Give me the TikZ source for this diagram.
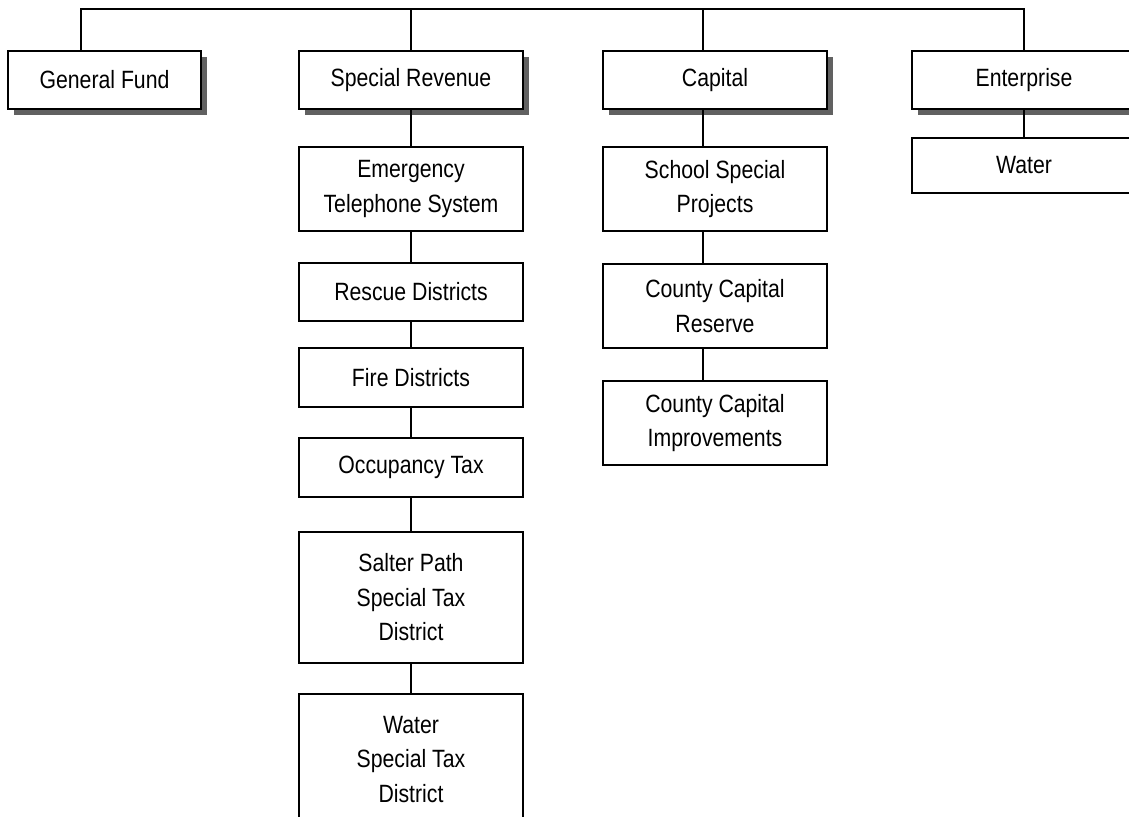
\documentclass[tikz,border=0pt]{standalone}
\usepackage{fontspec}
\setmainfont[FakeStretch=0.85]{Liberation Sans}
\usetikzlibrary{shadows}
\begin{document}
\begin{tikzpicture}[x=1pt,y=-1pt,
  box/.style={draw=black, line width=2pt, fill=white, inner sep=0pt, align=center,
    font=\fontsize{25}{34.5}\selectfont},
  fundbox/.style={box, minimum width=224pt},
  topbox/.style={box, minimum height=57pt,
    drop shadow={shadow xshift=6pt, shadow yshift=-6pt, fill=black!62, opacity=1}},
  link/.style={line width=1.7pt}]
\useasboundingbox (0,0) rectangle (1129,816);
\begin{scope}
\clip (0,0) rectangle (1129,816);

% fund types
\node[topbox, minimum width=193pt] (gf) at (104.5,80) {General Fund};
\node[topbox, fundbox] (sr)  at (411,80)  {Special Revenue};
\node[topbox, fundbox] (cap) at (715,80)  {Capital};
\node[topbox, fundbox] (ent) at (1024,80) {Enterprise};

% special revenue funds
\node[fundbox, minimum height=84pt]  (emg)  at (411,189)   {Emergency\\Telephone System};
\node[fundbox, minimum height=58pt]  (resc) at (411,292)   {Rescue Districts};
\node[fundbox, minimum height=59pt]  (fire) at (411,377.5) {Fire Districts};
\node[fundbox, minimum height=59pt]  (occ)  at (411,467.5) {Occupancy Tax};
\node[fundbox, minimum height=131pt] (salt) at (411,597.5) {Salter Path\\Special Tax\\District};
\node[fundbox, minimum height=131pt] (wtd)  at (411,759.5) {Water\\Special Tax\\District};

% capital funds
\node[fundbox, minimum height=84pt] (sch) at (715,189) {School Special\\Projects};
\node[fundbox, minimum height=84pt] (ccr) at (715,306) {County Capital\\Reserve};
\node[fundbox, minimum height=84pt] (cci) at (715,423) {County Capital\\Improvements};

% enterprise funds
\node[fundbox, minimum height=55pt] (wat) at (1024,165.5) {Water};

% bus points
\coordinate (b1) at (81,9);
\coordinate (b2) at (411,9);
\coordinate (b3) at (703,9);
\coordinate (b4) at (1024,9);

\draw[link] (b1 |- gf.north) -- (b1) -- (b4) -- (b4 |- ent.north);
\draw[link] (b2) -- (b2 |- sr.north);
\draw[link] (b3) -- (b3 |- cap.north);

\draw[link] (b2 |- sr.south)   -- (b2 |- emg.north);
\draw[link] (b2 |- emg.south)  -- (b2 |- resc.north);
\draw[link] (b2 |- resc.south) -- (b2 |- fire.north);
\draw[link] (b2 |- fire.south) -- (b2 |- occ.north);
\draw[link] (b2 |- occ.south)  -- (b2 |- salt.north);
\draw[link] (b2 |- salt.south) -- (b2 |- wtd.north);

\draw[link] (b3 |- cap.south) -- (b3 |- sch.north);
\draw[link] (b3 |- sch.south) -- (b3 |- ccr.north);
\draw[link] (b3 |- ccr.south) -- (b3 |- cci.north);

\draw[link] (b4 |- ent.south) -- (b4 |- wat.north);
\end{scope}
\end{tikzpicture}
\end{document}
